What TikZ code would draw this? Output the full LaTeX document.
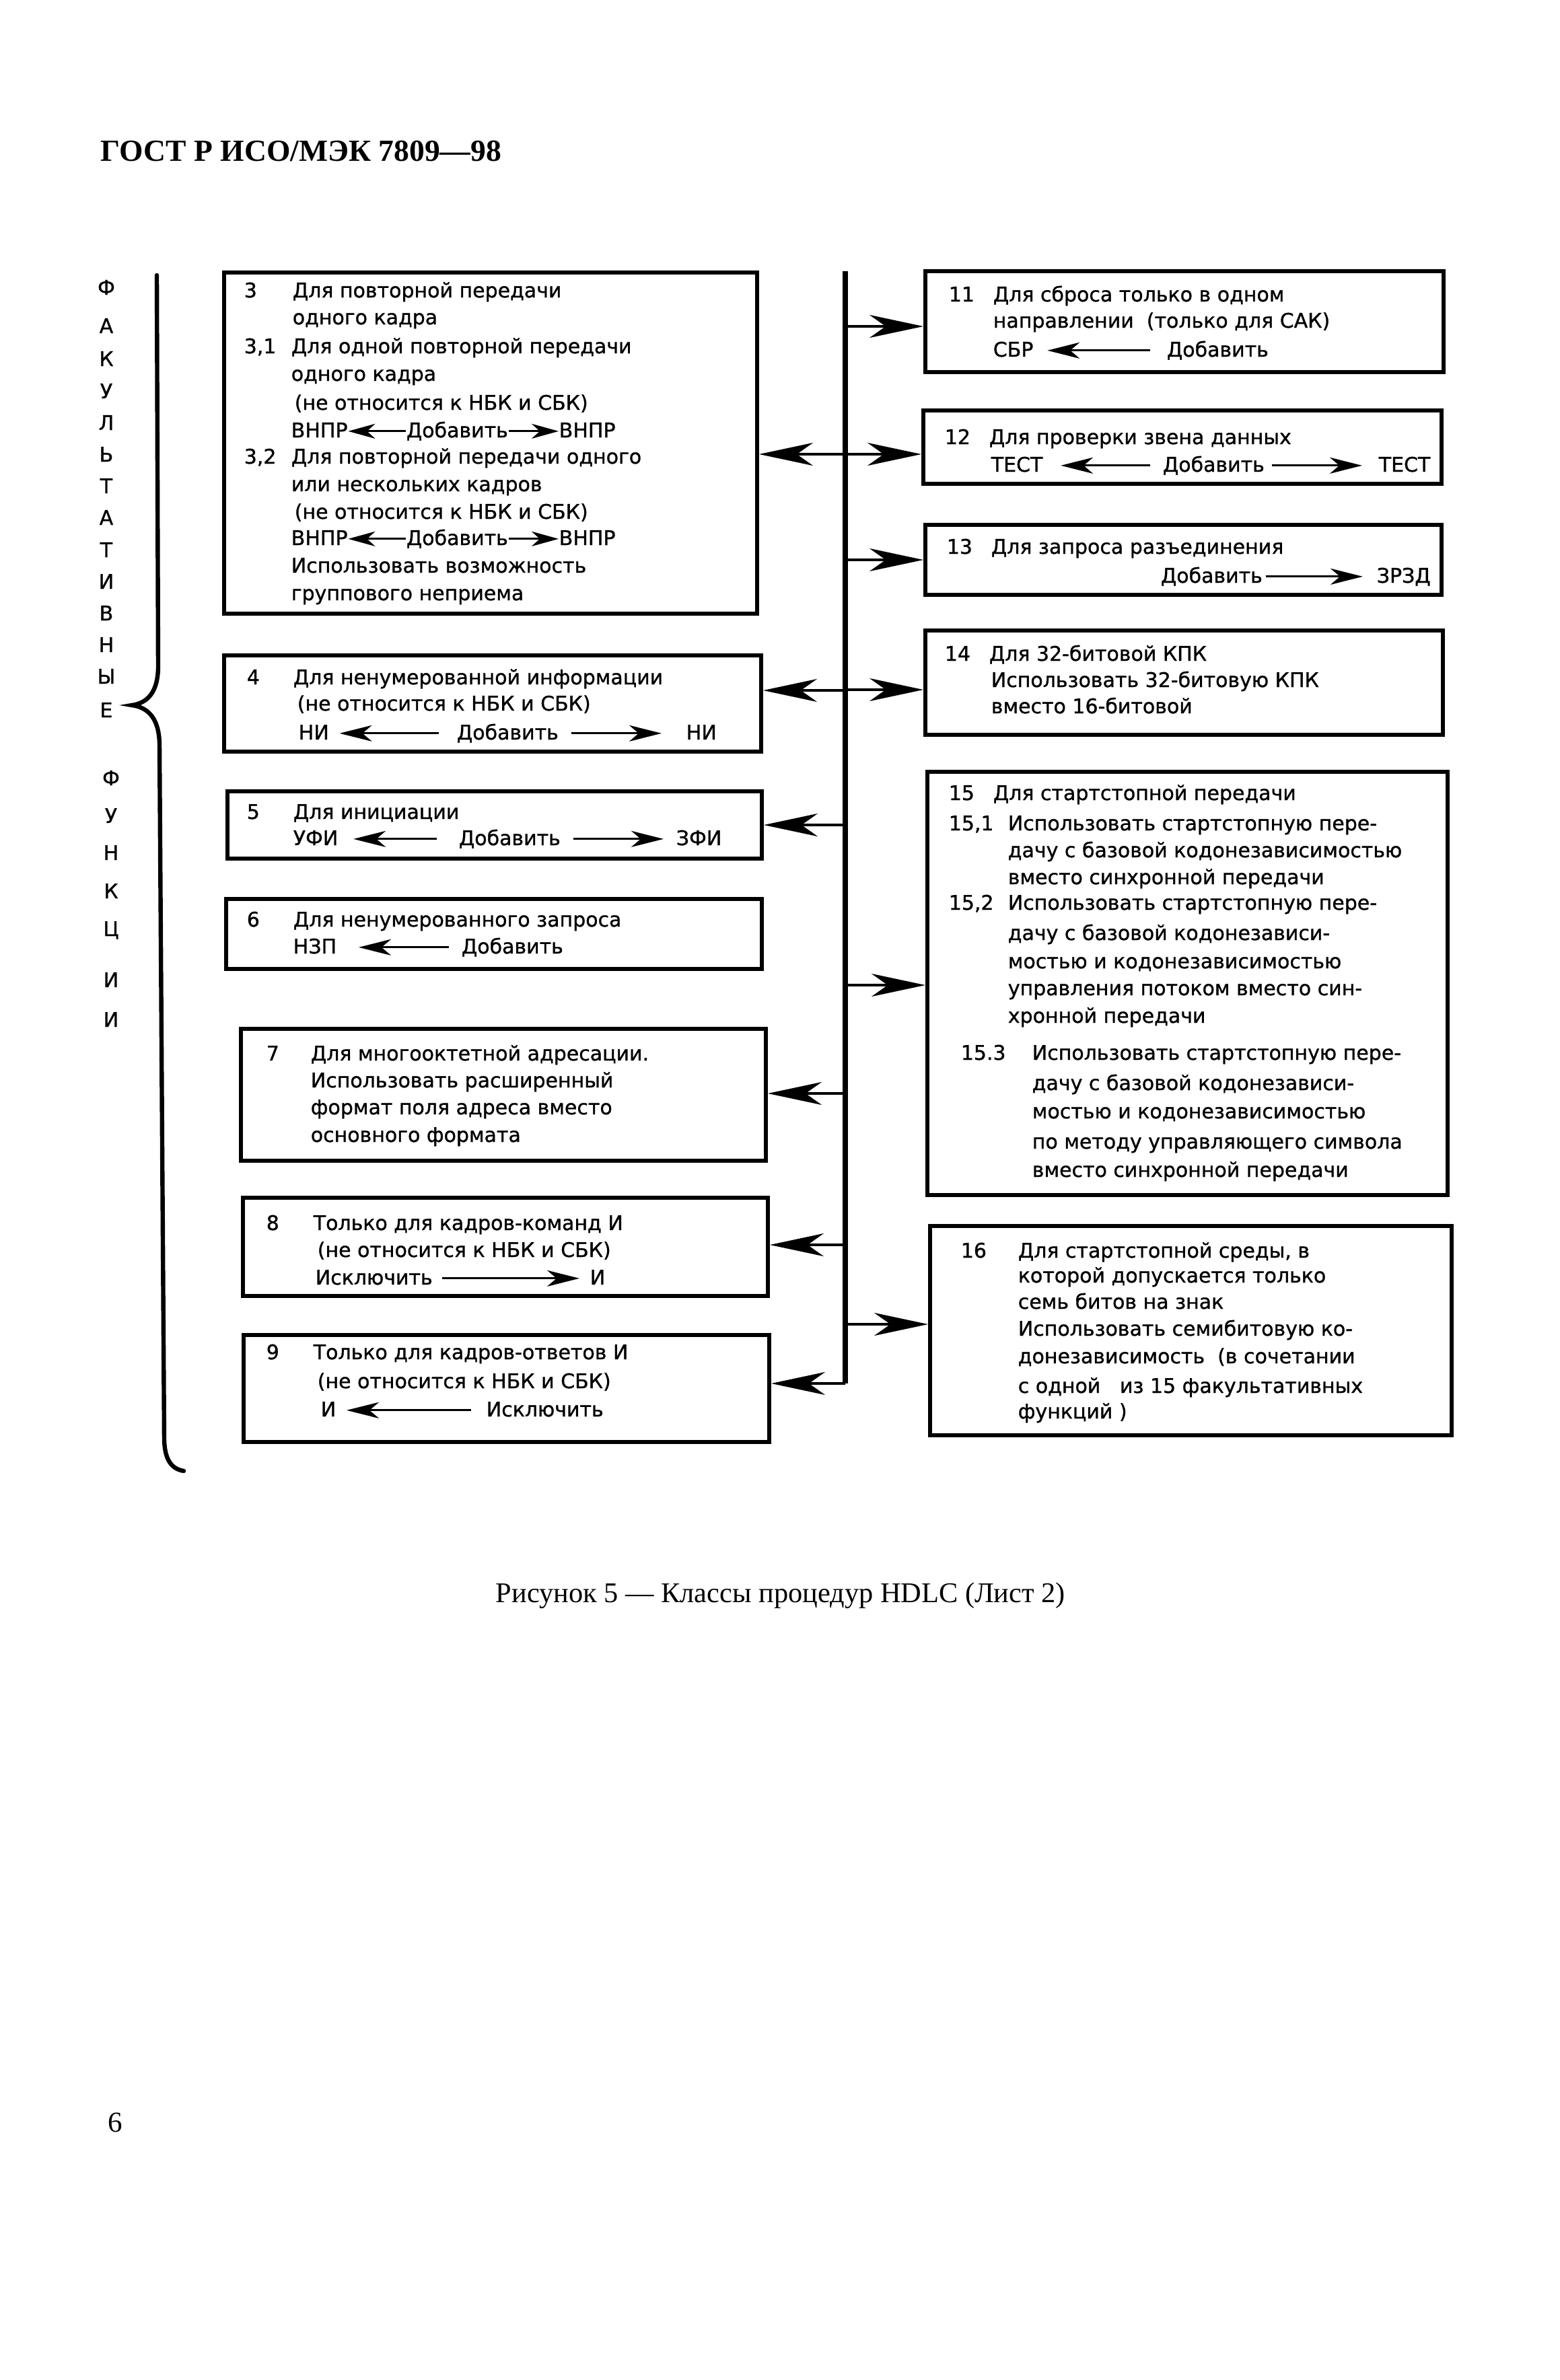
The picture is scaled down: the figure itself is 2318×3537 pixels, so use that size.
\documentclass[tikz,border=0pt]{standalone}
\usepackage{fontspec}
\setmainfont{Liberation Serif}
\newfontfamily\bxfont[FakeBold=1]{DejaVu Sans}
\usetikzlibrary{arrows.meta,fit}
\newcommand\bxf{\bxfont\fontsize{7.5pt}{9pt}\selectfont}
\newcommand\TL[4]{\node[ln] (#1) at (#2,#3) {#4};}
\newcommand\VL[4]{\node[vl] (#1) at (#2,#3) {#4};}
\newcommand\BX[5]{\node[bx, fit={(#2,#3) (#4,#5)}] (#1) {};}
\begin{document}
\begin{tikzpicture}[x=0.25pt,y=-0.25pt,
  ln/.style={inner sep=0pt, anchor=base west, font=\bxf},
  vl/.style={inner sep=0pt, anchor=base, font=\bxf},
  bx/.style={draw, line width=1.5pt, inner sep=0pt},
  busarr/.style={line width=0.8pt, -{Stealth[length=20pt, width=8.5pt, inset=6pt]}},
  txtarr/.style={line width=0.7pt, -{Stealth[length=12pt, width=6pt, inset=3.5pt]}},
  shortarr/.style={line width=0.7pt, -{Stealth[length=10pt, width=5.5pt, inset=3pt]}},
  busline/.style={line width=1.8pt},
  brace/.style={line width=1.6pt, line cap=round}]
\useasboundingbox (0,0) rectangle (2318,3537);
\fill[white] (0,0) rectangle (2318,3537);

% header, caption, page number
\node[anchor=base west, inner sep=0pt, font=\bfseries\fontsize{11.4pt}{13pt}\selectfont] (hdr) at (149,239) {ГОСТ Р ИСО/МЭК 7809—98};
\node[anchor=base west, inner sep=0pt, font=\fontsize{10.6pt}{13pt}\selectfont] (cap) at (736,2381) {Рисунок 5 — Классы процедур HDLC (Лист 2)};
\node[anchor=base west, inner sep=0pt, font=\fontsize{10.75pt}{13pt}\selectfont] (pg) at (160,3168) {6};

% vertical letters
\VL{v1}{158}{438}{Ф}
\VL{v2}{158}{495}{А}
\VL{v3}{158}{544}{К}
\VL{v4}{158}{592}{У}
\VL{v5}{158}{639}{Л}
\VL{v6}{158}{686}{Ь}
\VL{v7}{158}{733}{Т}
\VL{v8}{158}{780}{А}
\VL{v9}{158}{828}{Т}
\VL{v10}{158}{875}{И}
\VL{v11}{158}{922}{В}
\VL{v12}{158}{969}{Н}
\VL{v13}{158}{1016}{Ы}
\VL{v14}{158}{1066}{Е}
\VL{v15}{165}{1167}{Ф}
\VL{v16}{165}{1223}{У}
\VL{v17}{165}{1278}{Н}
\VL{v18}{165}{1335}{К}
\VL{v19}{165}{1391}{Ц}
\VL{v20}{165}{1467}{И}
\VL{v21}{165}{1526}{И}

% brace
\draw[brace] (233,409) -- (235,990) .. controls (235,1030) and (218,1045) .. (196,1048)
  .. controls (218,1051) and (236,1065) .. (237,1105) -- (244,2140)
  .. controls (245,2170) and (255,2183) .. (273,2186);

% boxes
\BX{b3}{333}{405}{1125}{912}
\BX{b4}{333}{974}{1131}{1117}
\BX{b5}{338}{1176}{1132}{1276}
\BX{b6}{336}{1336}{1132}{1440}
\BX{b7}{358}{1529}{1138}{1725}
\BX{b8}{361}{1780}{1141}{1926}
\BX{b9}{362}{1984}{1143}{2143}
\BX{b11}{1375}{403}{2145}{553}
\BX{b12}{1372}{610}{2142}{719}
\BX{b13}{1375}{780}{2142}{884}
\BX{b14}{1375}{937}{2144}{1092}
\BX{b15}{1378}{1147}{2151}{1776}
\BX{b16}{1382}{1822}{2157}{2133}

% bus
\coordinate (bustop) at (1256,403);
\coordinate (busbot) at (1256,2056);
\draw[busline] (bustop) -- (busbot);
\coordinate (p11) at (1256,485);
\coordinate (p12) at (1256,675);
\coordinate (p13) at (1256,832);
\coordinate (p14) at (1256,1025);
\coordinate (p15) at (1256,1464);
\coordinate (p16) at (1256,1968);
\coordinate (p3) at (1256,675);
\coordinate (p4) at (1256,1026);
\coordinate (p5) at (1256,1226);
\coordinate (p7) at (1256,1625);
\coordinate (p8) at (1256,1850);
\draw[busarr] (p11) -- (p11 -| b11.west);
\draw[busarr] (p12) -- (p12 -| b12.west);
\draw[busarr] (p13) -- (p13 -| b13.west);
\draw[busarr] (p14) -- (p14 -| b14.west);
\draw[busarr] (p15) -- (p15 -| b15.west);
\draw[busarr] (p16) -- (p16 -| b16.west);
\draw[busarr] (p3) -- (p3 -| b3.east);
\draw[busarr] (p4) -- (p4 -| b4.east);
\draw[busarr] (p5) -- (p5 -| b5.east);
\draw[busarr] (p7) -- (p7 -| b7.east);
\draw[busarr] (p8) -- (p8 -| b8.east);
\draw[busarr] (busbot) -- (busbot -| b9.east);

% box 3
\TL{t3n1}{362}{442}{3}
\TL{t3a}{434}{442}{Для повторной передачи}
\TL{t3b}{434}{482}{одного кадра}
\TL{t3n2}{362}{525}{3,1}
\TL{t3c}{432}{525}{Для одной повторной передачи}
\TL{t3d}{432}{566}{одного кадра}
\TL{t3e}{437}{609}{(не относится к НБК и СБК)}
\TL{t3f1}{432}{650}{ВНПР}
\TL{t3f2}{603}{650}{Добавить}
\TL{t3f3}{830}{650}{ВНПР}
\draw[shortarr] (t3f2.mid west) -- (t3f1.mid east);
\draw[shortarr] (t3f2.mid east) -- (t3f3.mid west);
\TL{t3n3}{362}{689}{3,2}
\TL{t3g}{432}{689}{Для повторной передачи одного}
\TL{t3h}{432}{730}{или нескольких кадров}
\TL{t3i}{437}{771}{(не относится к НБК и СБК)}
\TL{t3j1}{432}{810}{ВНПР}
\TL{t3j2}{603}{810}{Добавить}
\TL{t3j3}{830}{810}{ВНПР}
\draw[shortarr] (t3j2.mid west) -- (t3j1.mid east);
\draw[shortarr] (t3j2.mid east) -- (t3j3.mid west);
\TL{t3k}{432}{851}{Использовать возможность}
\TL{t3l}{432}{892}{группового неприема}

% box 4
\TL{t4n}{366}{1017}{4}
\TL{t4a}{435}{1017}{Для ненумерованной информации}
\TL{t4b}{441}{1056}{(не относится к НБК и СБК)}
\TL{t4c1}{443}{1099}{НИ}
\TL{t4c2}{678}{1099}{Добавить}
\TL{t4c3}{1019}{1099}{НИ}
\draw[txtarr, shorten <=6.5pt, shorten >=3.75pt] (t4c2.mid west) -- (t4c1.mid east);
\draw[txtarr, shorten <=4.5pt, shorten >=9pt] (t4c2.mid east) -- (t4c3.mid west);

% box 5
\TL{t5n}{366}{1217}{5}
\TL{t5a}{435}{1217}{Для инициации}
\TL{t5b1}{435}{1256}{УФИ}
\TL{t5b2}{681}{1256}{Добавить}
\TL{t5b3}{1004}{1256}{ЗФИ}
\draw[txtarr, shorten <=8pt, shorten >=5.5pt] (t5b2.mid west) -- (t5b1.mid east);
\draw[txtarr, shorten <=4.5pt, shorten >=4.5pt] (t5b2.mid east) -- (t5b3.mid west);

% box 6
\TL{t6n}{366}{1377}{6}
\TL{t6a}{435}{1377}{Для ненумерованного запроса}
\TL{t6b1}{435}{1417}{НЗП}
\TL{t6b2}{685}{1417}{Добавить}
\draw[txtarr, shorten <=4.5pt, shorten >=8pt] (t6b2.mid west) -- (t6b1.mid east);

% box 7
\TL{t7n}{395}{1576}{7}
\TL{t7a}{461}{1576}{Для многооктетной адресации.}
\TL{t7b}{461}{1616}{Использовать расширенный}
\TL{t7c}{461}{1656}{формат поля адреса вместо}
\TL{t7d}{461}{1697}{основного формата}

% box 8
\TL{t8n}{395}{1828}{8}
\TL{t8a}{465}{1828}{Только для кадров-команд И}
\TL{t8b}{471}{1868}{(не относится к НБК и СБК)}
\TL{t8c1}{468}{1909}{Исключить}
\TL{t8c2}{876}{1909}{И}
\draw[txtarr, shorten <=3.5pt, shorten >=3.75pt] (t8c1.mid east) -- (t8c2.mid west);

% box 9
\TL{t9n}{395}{2020}{9}
\TL{t9a}{465}{2020}{Только для кадров-ответов И}
\TL{t9b}{471}{2063}{(не относится к НБК и СБК)}
\TL{t9c1}{476}{2105}{И}
\TL{t9c2}{722}{2105}{Исключить}
\draw[txtarr, shorten <=5.5pt, shorten >=3.75pt] (t9c2.mid west) -- (t9c1.mid east);

% box 11
\TL{t11n}{1409}{448}{11}
\TL{t11a}{1475}{448}{Для сброса только в одном}
\TL{t11b}{1475}{487}{направлении~ (только для САК)}
\TL{t11c1}{1475}{530}{СБР}
\TL{t11c2}{1733}{530}{Добавить}
\draw[txtarr, shorten <=6pt, shorten >=5pt] (t11c2.mid west) -- (t11c1.mid east);

% box 12
\TL{t12n}{1403}{660}{12}
\TL{t12a}{1469}{660}{Для проверки звена данных}
\TL{t12b1}{1472}{701}{ТЕСТ}
\TL{t12b2}{1727}{701}{Добавить}
\TL{t12b3}{2048}{701}{ТЕСТ}
\draw[txtarr, shorten <=4.5pt, shorten >=6.5pt] (t12b2.mid west) -- (t12b1.mid east);
\draw[txtarr, shorten <=2.5pt, shorten >=6pt] (t12b2.mid east) -- (t12b3.mid west);

% box 13
\TL{t13n}{1406}{823}{13}
\TL{t13a}{1472}{823}{Для запроса разъединения}
\TL{t13b1}{1724}{866}{Добавить}
\TL{t13b2}{2045}{866}{ЗРЗД}
\draw[txtarr, shorten <=1pt, shorten >=5pt] (t13b1.mid east) -- (t13b2.mid west);

% box 14
\TL{t14n}{1403}{982}{14}
\TL{t14a}{1469}{982}{Для 32-битовой КПК}
\TL{t14b}{1472}{1021}{Использовать 32-битовую КПК}
\TL{t14c}{1472}{1060}{вместо 16-битовой}

% box 15
\TL{t15n1}{1409}{1189}{15}
\TL{t15a}{1475}{1189}{Для стартстопной передачи}
\TL{t15n2}{1409}{1234}{15,1}
\TL{t15b}{1497}{1234}{Использовать стартстопную пере-}
\TL{t15c}{1497}{1274}{дачу с базовой кодонезависимостью}
\TL{t15d}{1497}{1314}{вместо синхронной передачи}
\TL{t15n3}{1409}{1352}{15,2}
\TL{t15e}{1497}{1352}{Использовать стартстопную пере-}
\TL{t15f}{1497}{1397}{дачу с базовой кодонезависи-}
\TL{t15g}{1497}{1439}{мостью и кодонезависимостью}
\TL{t15h}{1497}{1479}{управления потоком вместо син-}
\TL{t15i}{1497}{1520}{хронной передачи}
\TL{t15n4}{1427}{1575}{15.3}
\TL{t15j}{1533}{1575}{Использовать стартстопную пере-}
\TL{t15k}{1533}{1620}{дачу с базовой кодонезависи-}
\TL{t15l}{1533}{1662}{мостью и кодонезависимостью}
\TL{t15m}{1533}{1707}{по методу управляющего символа}
\TL{t15o}{1533}{1749}{вместо синхронной передачи}

% box 16
\TL{t16n}{1427}{1869}{16}
\TL{t16a}{1512}{1869}{Для стартстопной среды, в}
\TL{t16b}{1512}{1906}{которой допускается только}
\TL{t16c}{1512}{1945}{семь битов на знак}
\TL{t16d}{1512}{1985}{Использовать семибитовую ко-}
\TL{t16e}{1512}{2026}{донезависимость~ (в сочетании}
\TL{t16f}{1512}{2070}{с одной~~ из 15 факультативных}
\TL{t16g}{1512}{2108}{функций )}
\end{tikzpicture}
\end{document}
